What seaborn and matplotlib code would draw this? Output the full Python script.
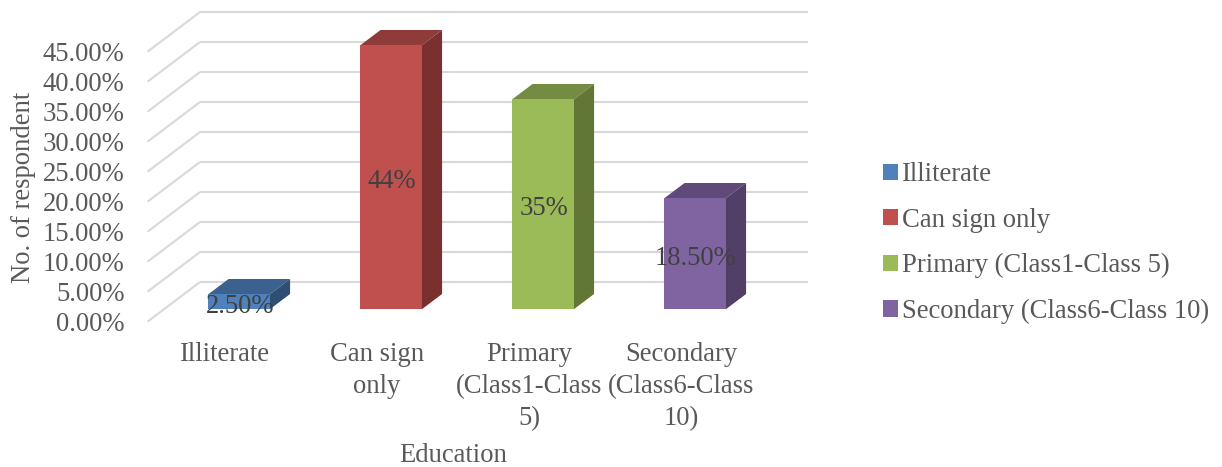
import matplotlib
matplotlib.use("Agg")
import matplotlib.pyplot as plt
import seaborn as sns
import pandas as pd
from matplotlib.patches import Polygon

categories = ["Illiterate", "Can sign only", "Primary (Class1-Class 5)", "Secondary (Class6-Class 10)"]
axis_labels = ["Illiterate", "Can sign\nonly", "Primary\n(Class1-Class\n5)", "Secondary\n(Class6-Class\n10)"]
values = [2.5, 44, 35, 18.5]
value_labels = ["2.50%", "44%", "35%", "18.50%"]
y_ticks = [0, 5, 10, 15, 20, 25, 30, 35, 40, 45]
colors = ["#4F81BD", "#C0504D", "#9BBB59", "#8064A2"]
top_colors = ["#3B618F", "#8F3B39", "#748C42", "#5F4A79"]
side_colors = ["#2F4E73", "#7A302E", "#627636", "#513F68"]

sns.set_theme(style="white")
plt.rcParams["font.family"] = ["Liberation Serif", "DejaVu Sans"]

W, H = 1222, 467
FS = 19.2
TEXT = "#595959"
GRID = "#D9D9D9"
FRONT_LEFT = 149.0


def axes_box(left, right, top, bottom):
    return [left / W, 1 - bottom / H, (right - left) / W, (bottom - top) / H]


fig = plt.figure(figsize=(W / 100, H / 100), dpi=100, facecolor="white")

# Front plane of the chart floor carries the axis text; bars sit further back.
ax_front = fig.add_axes(axes_box(FRONT_LEFT, FRONT_LEFT + 608, 51.2, 321.2))
ax = fig.add_axes(axes_box(163.0, 771.0, 39.3, 309.3))

df = pd.DataFrame({"category": categories, "value": values})
sns.barplot(data=df, x="category", y="value", hue="category", hue_order=categories,
            palette=colors, dodge=False, width=0.405, saturation=1, legend=True,
            linewidth=0, edgecolor="none", ax=ax, zorder=3)

for a in (ax, ax_front):
    a.set_xlim(-0.5, 3.5)
    a.set_ylim(0, 45)
    a.patch.set_alpha(0)
    sns.despine(ax=a, left=True, bottom=True)

unit_x = 152.0
unit_y = 6.0
# Floor depth in data units: in front of and behind the plane of the bars.
front_dx, front_dy = 15.5 / unit_x, 12.4 / unit_y
back_dx, back_dy = 37.0 / unit_x, 27.3 / unit_y
bar_dx, bar_dy = 20.3 / unit_x, 15.3 / unit_y

for v in y_ticks:
    ax.plot([-0.5 - front_dx, -0.5 + back_dx], [v - front_dy, v + back_dy],
            color=GRID, lw=1.5, clip_on=False, zorder=1, solid_capstyle="butt")
    ax.plot([-0.5 + back_dx, 3.5 + back_dx], [v + back_dy, v + back_dy],
            color=GRID, lw=1.5, clip_on=False, zorder=1, solid_capstyle="butt")

for container, top_c, side_c, text in zip(ax.containers, top_colors, side_colors, value_labels):
    bar = container[0]
    x0, x1 = bar.get_x(), bar.get_x() + bar.get_width()
    h = bar.get_height()
    ax.add_patch(Polygon([(x0, h), (x1, h), (x1 + bar_dx, h + bar_dy), (x0 + bar_dx, h + bar_dy)],
                         closed=True, facecolor=top_c, edgecolor="none", clip_on=False, zorder=2))
    ax.add_patch(Polygon([(x1, 0), (x1 + bar_dx, bar_dy), (x1 + bar_dx, h + bar_dy), (x1, h)],
                         closed=True, facecolor=side_c, edgecolor="none", clip_on=False, zorder=2))
    for note in ax.bar_label(container, labels=[text], label_type="center", color="#404040",
                             fontsize=FS, zorder=5):
        # Nudge the label down a little from the exact bar centre.
        note.xyann = (0.5, -3.3)

ax.set_xticks([])
ax.set_yticks([])
ax.set_xlabel("")
ax.set_ylabel("")
ax.set_zorder(2)

handles, labels = ax.get_legend_handles_labels()
ax.get_legend().remove()
fig.legend(handles, labels, loc="center left", bbox_to_anchor=(883 / W, 1 - 243 / H),
           frameon=False, fontsize=FS, labelcolor=TEXT, handlelength=0.55, handleheight=0.55,
           handletextpad=0.17, labelspacing=0.77, borderpad=0, borderaxespad=0)

ax_front.set_xticks(range(4), axis_labels)
ax_front.set_yticks(y_ticks, [f"{v:.2f}%" for v in y_ticks])
ax_front.tick_params(axis="y", length=0, pad=17.6, labelsize=FS, labelcolor=TEXT)
ax_front.tick_params(axis="x", length=0, pad=15.3, labelsize=FS, labelcolor=TEXT)
for tick in ax_front.get_xticklabels():
    tick.set_linespacing(1.36)

ax_front.set_xlabel("Education", fontsize=FS, color=TEXT)
ax_front.xaxis.set_label_coords((453 - FRONT_LEFT) / 608, (321.2 - 443) / 270, transform=ax_front.transAxes)
ax_front.set_ylabel("No. of respondent", fontsize=FS, color=TEXT)
ax_front.yaxis.set_label_coords((36 - FRONT_LEFT) / 608, (321.2 - 187) / 270, transform=ax_front.transAxes)

fig.savefig("out.png", dpi=100, facecolor="white")
